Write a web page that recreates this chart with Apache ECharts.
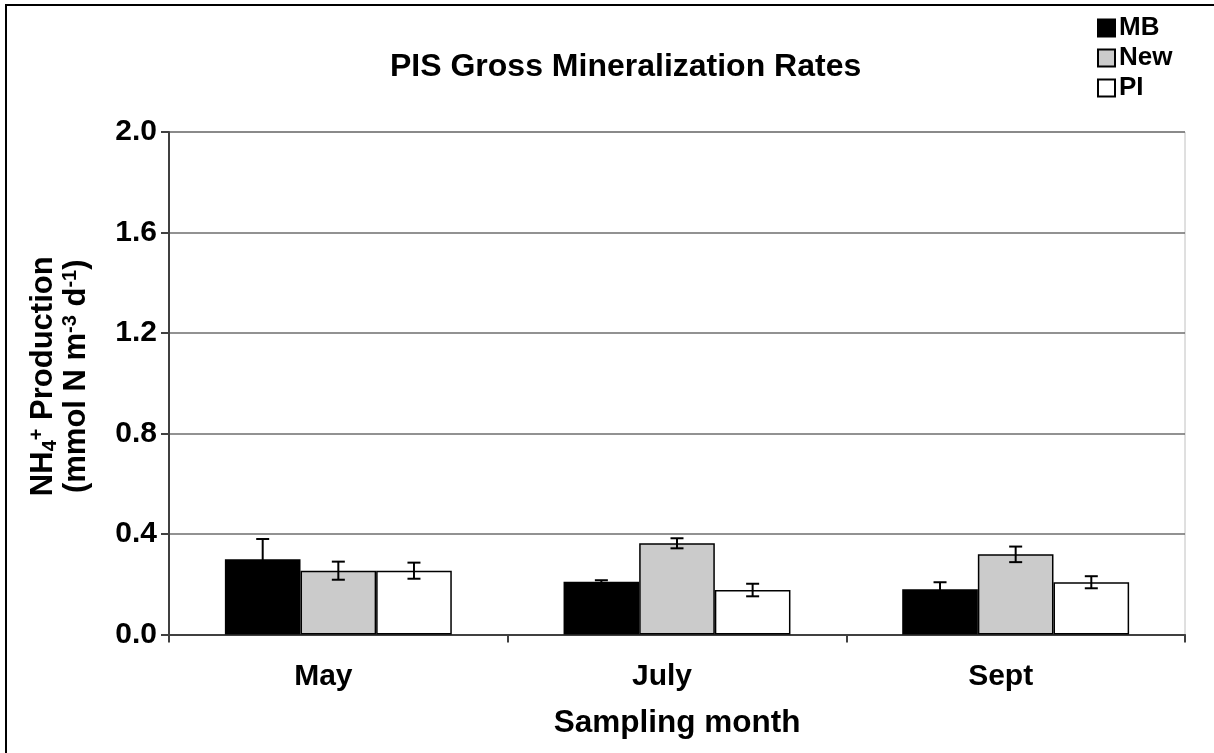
<!DOCTYPE html>
<html>
<head>
<meta charset="utf-8">
<script src="https://cdn.jsdelivr.net/npm/echarts@6/dist/echarts.min.js"></script>
<style>
  html, body { margin: 0; padding: 0; background: #fff; }
  #main { width: 1214px; height: 753px; }
</style>
</head>
<body>
<div id="main"></div>
<script>
  var months = ['May', 'July', 'Sept'];
  var seriesNames = ['MB', 'New', 'PI'];
  var mbVals = [0.30, 0.21, 0.18];
  var mbErr = [0.08, 0.006, 0.028];
  var newVals = [0.254, 0.363, 0.319];
  var newErr = [0.036, 0.02, 0.031];
  var piVals = [0.254, 0.177, 0.208];
  var piErr = [0.032, 0.025, 0.024];

  var FONT = '"Liberation Sans", Arial, sans-serif';
  var catGap = 0.33;

  var chart = echarts.init(document.getElementById('main'));

  // error bars drawn on top of the bars, shifted to each bar's slot
  function errSeries(vals, errs, slot) {
    var d = vals.map(function (v, i) { return [i, v, errs[i]]; });
    return {
      type: 'custom',
      z: 5,
      silent: true,
      data: d,
      renderItem: function (params, api) {
        var catW = api.size([1, 0])[0];
        var barW = catW * (1 - catGap) / 3;
        var c = api.coord([api.value(0), api.value(1)]);
        var x = c[0] + slot * barW;
        var hi = api.coord([api.value(0), api.value(1) + api.value(2)])[1];
        var lo = api.coord([api.value(0), api.value(1) - api.value(2)])[1];
        var cap = 6.5;
        var st = { stroke: '#000', lineWidth: 2 };
        return {
          type: 'group',
          children: [
            { type: 'line', shape: { x1: x, y1: hi, x2: x, y2: lo }, style: st },
            { type: 'line', shape: { x1: x - cap, y1: hi, x2: x + cap, y2: hi }, style: st },
            { type: 'line', shape: { x1: x - cap, y1: lo, x2: x + cap, y2: lo }, style: st }
          ]
        };
      }
    };
  }

  var option = {
    animation: false,
    textStyle: { fontFamily: FONT },
    title: {
      text: 'PIS Gross Mineralization Rates',
      left: 385,
      top: 46,
      textStyle: { fontFamily: FONT, fontSize: 32, fontWeight: 'bold', color: '#000' }
    },
    legend: {
      data: seriesNames,
      orient: 'vertical',
      left: 1097,
      top: 15,
      padding: 0,
      icon: 'rect',
      itemWidth: 17,
      itemHeight: 17,
      itemGap: 4,
      textStyle: { fontFamily: FONT, fontSize: 26, fontWeight: 'bold', color: '#000', padding: [0, 0, 0, -1] }
    },
    graphic: [{
      type: 'polyline',
      shape: { points: [[6, 800], [6, 5], [1300, 5]] },
      style: { stroke: '#000', lineWidth: 2, fill: null }
    }],
    grid: {
      left: 169,
      right: 29,
      top: 132,
      bottom: 118.5,
      show: true,
      borderColor: '#c0c0c0',
      borderWidth: 1
    },
    xAxis: {
      type: 'category',
      data: months,
      axisLine: { lineStyle: { color: '#404040', width: 2 } },
      axisTick: { show: true, length: 8, lineStyle: { color: '#404040', width: 2 } },
      axisLabel: { margin: 27, padding: [0, 30, 0, 0], fontFamily: FONT, fontSize: 30, fontWeight: 'bold', color: '#000' },
      name: 'Sampling month',
      nameLocation: 'middle',
      nameGap: 73,
      nameTextStyle: { fontFamily: FONT, fontSize: 31.5, fontWeight: 'bold', color: '#000' }
    },
    yAxis: {
      type: 'value',
      min: 0,
      max: 2,
      interval: 0.4,
      axisLine: { show: true, lineStyle: { color: '#404040', width: 2 } },
      axisTick: { show: true, length: 8, lineStyle: { color: '#404040', width: 2 } },
      splitLine: { lineStyle: { color: '#6e6e6e', width: 1.5 } },
      axisLabel: {
        margin: 12,
        fontFamily: FONT, fontSize: 30, fontWeight: 'bold', color: '#000',
        formatter: function (v) { return v.toFixed(1); }
      },
      name: '{b|NH}{sub|4}{sup|+}{b| Production}\n{b|(mmol N m}{sup|-3}{b| d}{sup|-1}{b|)}',
      nameLocation: 'middle',
      nameRotate: 90,
      nameGap: 76,
      nameTextStyle: {
        fontFamily: FONT, fontWeight: 'bold', color: '#000', fontSize: 31, lineHeight: 33,
        padding: [0, 0, 0, 14],
        rich: {
          b: { fontFamily: FONT, fontSize: 31, fontWeight: 'bold', color: '#000', lineHeight: 33 },
          sub: { fontFamily: FONT, fontSize: 20, fontWeight: 'bold', color: '#000', verticalAlign: 'bottom', lineHeight: 33 },
          sup: { fontFamily: FONT, fontSize: 20, fontWeight: 'bold', color: '#000', verticalAlign: 'top', lineHeight: 33 }
        }
      }
    },
    series: [
      {
        name: 'MB', type: 'bar', data: mbVals,
        barGap: '0%', barCategoryGap: '33%',
        itemStyle: { color: '#000', borderColor: '#000', borderWidth: 1.5 }
      },
      {
        name: 'New', type: 'bar', data: newVals,
        itemStyle: { color: '#cbcbcb', borderColor: '#000', borderWidth: 1.5 }
      },
      {
        name: 'PI', type: 'bar', data: piVals,
        itemStyle: { color: '#fff', borderColor: '#000', borderWidth: 1.5 }
      },
      errSeries(mbVals, mbErr, -1),
      errSeries(newVals, newErr, 0),
      errSeries(piVals, piErr, 1)
    ]
  };

  chart.setOption(option);
</script>
</body>
</html>
